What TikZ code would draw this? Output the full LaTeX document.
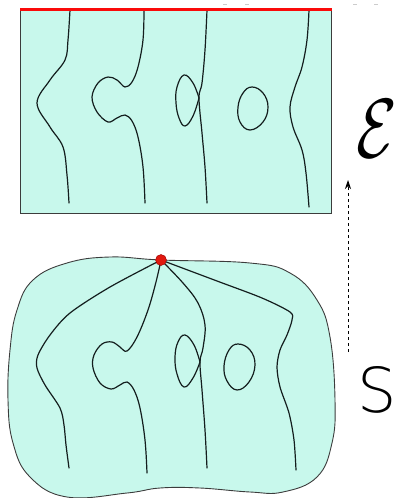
\documentclass[tikz,border=0pt]{standalone}
\usepackage{graphicx}
\usepackage{fontspec}
\newfontfamily\thinsans{DejaVu Sans ExtraLight}
\usetikzlibrary{arrows.meta}
\definecolor{surf}{RGB}{200,248,236}
\definecolor{edge}{RGB}{60,60,60}
\definecolor{curv}{RGB}{20,30,30}
\definecolor{redline}{RGB}{250,10,10}
\definecolor{dotred}{RGB}{225,25,15}
\tikzset{
  region/.style={fill=surf,draw=edge,line width=0.9pt},
  leaf/.style={draw=curv,line width=1.2pt,line cap=round,line join=round},
  label/.style={inner sep=0pt,text=black},
}
\begin{document}
\begin{tikzpicture}[x=1pt,y=-1pt]
\useasboundingbox (0,0) rectangle (397,498);
% top region
\node[region,minimum width=311pt,minimum height=204pt,inner sep=0pt,anchor=north west] (box) at (20,9) {};
\draw[leaf] plot[smooth,tension=0.6] coordinates {(70,10) (68,40) (65,60) (50,80) (37,103) (50,127) (63,147) (67,175) (69,203)};
\draw[leaf] plot[smooth,tension=0.6] coordinates {(144,10) (143,40) (138,67) (132,82) (125,87) (117,80) (108,77) (98,83) (92,97) (97,112) (108,122) (117,118) (125,115) (132,121) (138,137) (143,167) (145,203)};
\draw[leaf] plot[smooth,tension=0.6] coordinates {(207,10) (205,50) (202,83) (199,98) (202,133) (205,167) (207,203)};
\draw[leaf] plot[smooth,tension=0.7] coordinates {(199,98) (193,83) (184,75) (177,87) (176,103) (179,118) (185,126) (193,116) (199,98)};
\draw[leaf] plot[smooth cycle,tension=0.7] coordinates {(252,87) (263,93) (268,107) (263,122) (250,130) (240,122) (238,107) (243,93)};
\draw[leaf] plot[smooth,tension=0.6] coordinates {(309,10) (307,40) (302,67) (295,87) (290,107) (293,127) (302,150) (306,173) (309,207)};
\coordinate (rl) at (20,9.5);
\coordinate (rr) at (332,9.5);
\draw[redline,line width=3.5pt] (rl) -- (rr);
% faint marks
\foreach \xx in {225,247,355,376} \draw[gray!40,line width=0.8pt] (\xx-2,4) -- (\xx+2,4);
% bottom region
\draw[region] plot[smooth cycle,tension=0.7] coordinates {(161,260) (250,263) (290,273) (317,300) (330,337) (335,400) (332,443) (317,477) (283,492) (250,492) (200,488) (160,488) (127,493) (67,497) (30,477) (13,443) (8,400) (10,350) (17,310) (33,280) (67,263) (110,257)};
\coordinate (p) at (161,260);
\draw[leaf] plot[smooth,tension=0.5] coordinates {(161,260) (110,287) (70,313) (50,335) (38,355) (37,368) (45,385) (60,408) (64,425) (66,445) (69,468)};
\draw[leaf] plot[smooth,tension=0.6] coordinates {(161,260) (156,282) (148,310) (137,337) (127,351) (120,347) (112,342) (102,344) (94,355) (93,368) (100,383) (111,389) (120,385) (127,382) (134,390) (140,408) (145,440) (147,473)};
\draw[leaf] plot[smooth,tension=0.6] coordinates {(161,260) (183,283) (198,303) (205,325) (203,348) (200,362) (202,390) (205,430) (207,468)};
\draw[leaf] plot[smooth,tension=0.7] coordinates {(200,362) (194,345) (185,335) (178,342) (175,357) (177,374) (184,387) (193,378) (200,362)};
\draw[leaf] plot[smooth cycle,tension=0.7] coordinates {(238,344) (250,350) (255,365) (249,382) (237,390) (227,381) (224,366) (229,350)};
\draw[leaf] plot[smooth,tension=0.5] coordinates {(161,260) (217,281) (262,298) (290,312) (292,320) (287,335) (280,350) (277,367) (280,387) (289,413) (294,440) (296,470)};
\node[circle,fill=dotred,draw=red!60!black,line width=0.4pt,minimum size=11pt,inner sep=0pt] (dot) at (p) {};
% arrow and labels
\coordinate (a0) at (348,352);
\coordinate (a1) at (348,180);
\draw[dashed,line width=0.9pt,-{Stealth[length=9pt,width=6pt]}] (a0) -- (a1);
\node[label] (E) at (377,129) {\scalebox{6.6}[8.4]{$\mathcal{E}$}};
\node[label,font=\fontsize{62}{62}\selectfont\thinsans] (S) at (377,390) {S};
\end{tikzpicture}
\end{document}
